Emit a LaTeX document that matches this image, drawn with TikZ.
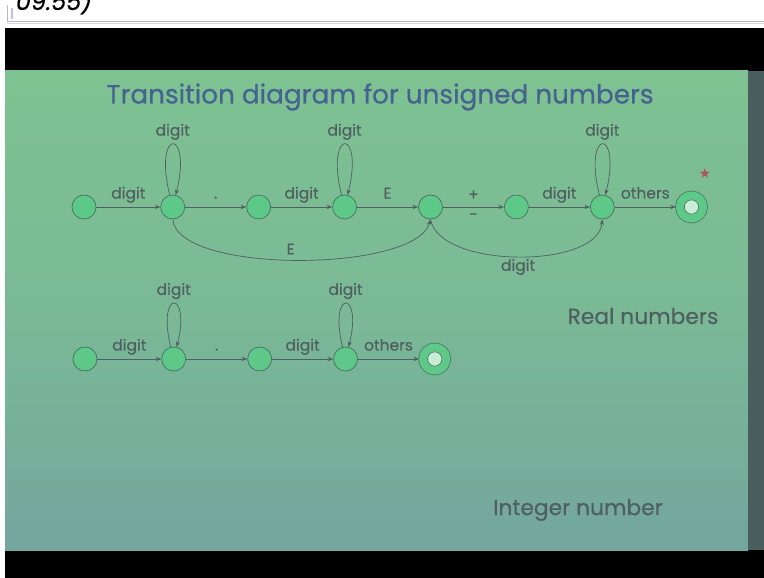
\documentclass[tikz,border=0pt]{standalone}
\usepackage{fontspec}
\setmainfont{Poppins}[FakeBold=0.5]
\newfontfamily\symfont{DejaVu Sans}
\usetikzlibrary{arrows.meta, positioning}
\definecolor{slideT}{RGB}{126,194,146}
\definecolor{slideM}{RGB}{122,185,150}
\definecolor{slideB}{RGB}{116,166,158}
\definecolor{bandD}{RGB}{74,94,94}
\definecolor{nodeF}{RGB}{94,200,136}
\definecolor{nodeD}{RGB}{72,112,96}
\definecolor{innerL}{RGB}{200,236,212}
\definecolor{inkG}{RGB}{80,96,96}
\definecolor{titleB}{RGB}{70,98,142}
\definecolor{starR}{RGB}{172,86,86}

\begin{document}
\begin{tikzpicture}[
  x=0.025cm, y=0.025cm,
  statenode/.style={
    circle, draw=nodeD, fill=nodeF,
    minimum size=0.6cm, inner sep=0pt,
    line width=0.5pt
  },
  accnode/.style={
    circle, draw=nodeD, double=nodeF, double distance=0.2cm,
    fill=innerL,
    minimum size=0.58cm, inner sep=0pt, outer sep=0.1cm,
    line width=0.5pt
  },
  lbl/.style={font=\fontsize{11}{12}\selectfont, text=inkG, inner sep=1pt,
    text height=1.6ex, text depth=0.5ex},
  sidetext/.style={font=\fontsize{15.5}{16}\selectfont, text=inkG},
  arr/.style={-{Stealth[length=4pt, width=3pt]}, line width=0.5pt, draw=inkG},
  selfloop/.style={out=104, in=76, min distance=#1, looseness=8},
  selfloop/.default=1.75cm,
]

\useasboundingbox (0,0) rectangle (764,-578);

%% ═══ FRAME OF THE SCREENSHOT ═══
\fill[white] (0,0) rectangle (764,-578);
\begin{scope}
  \clip (0,0) rectangle (764,-28);
  \node[anchor=base east, font=\itshape\fontsize{17}{17}\selectfont] (clock) at (97,-10) {09:55)};
\end{scope}
\draw[gray!55] (7,-5) -- (7,-21) -- (764,-21);
\draw[gray!30] (7,-23) -- (764,-23);
\draw[blue!25, line width=1pt] (12,-8) -- (12,-19);
\fill[black] (5,-28) rectangle (764,-71);
\fill[black] (5,-550) rectangle (764,-578);
\shade[top color=slideT, bottom color=slideB, middle color=slideM] (5,-71) rectangle (748,-550);
\fill[bandD] (748,-71) rectangle (764,-550);

%% ═══ TITLE ═══
\node[font=\fontsize{18.7}{21}\selectfont, text=titleB] (title) at (380,-97)
  {Transition diagram for unsigned numbers};

%% ═══ REAL NUMBERS ═══
\node[statenode] (r0) at (84,-207) {};
\node[statenode, right=1.6cm of r0] (r1) {};
\node[statenode, right=1.53cm of r1] (r2) {};
\node[statenode, right=1.53cm of r2] (r3) {};
\node[statenode, right=1.53cm of r3] (r4) {};
\node[statenode, right=1.53cm of r4] (r5) {};
\node[statenode, right=1.53cm of r5] (r6) {};
\node[accnode, right=1.53cm of r6] (r7) {};
\node[text=starR, font=\symfont\fontsize{10}{10}\selectfont] (star) at (705,-173) {★};

\draw[arr] (r0) -- node[lbl, above=2pt] {digit} (r1);
\draw[arr] (r1) to[selfloop] node[lbl, above=2pt] {digit} (r1);
\draw[arr] (r1) -- node[lbl, above=2pt] {.} (r2);
\draw[arr] (r2) -- node[lbl, above=2pt] {digit} (r3);
\draw[arr] (r3) to[selfloop] node[lbl, above=2pt] {digit} (r3);
\draw[arr] (r3) -- node[lbl, above=2pt] {E} (r4);
\draw[arr] (r4) -- node[lbl, above=1pt] {+} node[lbl, below=-1pt] {-} (r5);
\draw[arr] (r5) -- node[lbl, above=2pt] {digit} (r6);
\draw[arr] (r6) to[selfloop] node[lbl, above=2pt] {digit} (r6);
\draw[arr] (r6) -- node[lbl, above=2pt] {others} (r7);
\draw[arr] (r1.south) to[out=-85, in=-105, looseness=0.55]
  node[lbl, above=0pt, pos=0.48] {E} (r4.south);
\draw[arr] (r4.south) to[out=-80, in=-95, looseness=0.75]
  node[lbl, below=0pt] {digit} (r6.south);

\node[sidetext] (real) at (643,-316) {Real numbers};

%% ═══ INTEGER NUMBER ═══
\node[statenode] (t0) at (85,-359) {};
\node[statenode, right=1.6cm of t0] (t1) {};
\node[statenode, right=1.53cm of t1] (t2) {};
\node[statenode, right=1.53cm of t2] (t3) {};
\node[accnode, right=1.53cm of t3] (t4) {};

\draw[arr] (t0) -- node[lbl, above=2pt] {digit} (t1);
\draw[arr] (t1) to[selfloop=1.5cm] node[lbl, above=2pt] {digit} (t1);
\draw[arr] (t1) -- node[lbl, above=2pt] {.} (t2);
\draw[arr] (t2) -- node[lbl, above=2pt] {digit} (t3);
\draw[arr] (t3) to[selfloop=1.5cm] node[lbl, above=2pt] {digit} (t3);
\draw[arr] (t3) -- node[lbl, above=2pt] {others} (t4);

\node[sidetext] (int) at (578,-510) {Integer number};

\end{tikzpicture}
\end{document}
